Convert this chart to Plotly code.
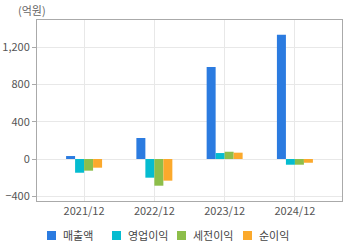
import plotly.graph_objects as go

categories = ["2021/12", "2022/12", "2023/12", "2024/12"]
series_names = ["매출액", "영업이익", "세전이익", "순이익"]
sales = [32, 225, 986, 1332]
op_income = [-147, -200, 64, -61]
pretax_income = [-125, -286, 78, -61]
net_income = [-93, -232, 68, -40]
colors = ["#2B7BE0", "#05BCD0", "#8DBE4A", "#FBA92C"]
y_ticks = [-400, 0, 400, 800, 1200]

FONT = "Noto Sans CJK KR, Noto Sans, sans-serif"

W, H = 360, 248
ML, MR, MT, MB = 37, 18, 20, 47
PW, PH = W - ML - MR, H - MT - MB

def px_x(px):
    return (px - ML) / PW

def px_y(py):
    return (H - MB - py) / PH

fig = go.Figure()
for name, vals, c in zip(series_names, [sales, op_income, pretax_income, net_income], colors):
    fig.add_trace(go.Bar(x=categories, y=vals, name=name, marker=dict(color=c, line=dict(width=0))))

# legend drawn below the plot (square + label per series)
legend_left_px = [47, 112, 177, 243]
shapes, annotations = [], []
for name, c, lx in zip(series_names, colors, legend_left_px):
    shapes.append(dict(type="rect", xref="paper", yref="paper",
                       x0=px_x(lx), x1=px_x(lx + 9), y0=px_y(240), y1=px_y(231),
                       fillcolor=c, line=dict(width=0)))
    annotations.append(dict(text=name, xref="paper", yref="paper", x=px_x(lx + 14), y=px_y(235.5),
                            xanchor="left", yanchor="middle", showarrow=False,
                            font=dict(size=11, color="#444444")))
annotations.append(dict(text="(억원)", xref="paper", yref="paper", x=-0.069, y=1.055,
                        xanchor="left", yanchor="middle", showarrow=False,
                        font=dict(size=11, color="#666666")))

fig.update_layout(
    width=W, height=H,
    margin=dict(l=ML, r=MR, t=MT, b=MB, autoexpand=False),
    paper_bgcolor="white", plot_bgcolor="white",
    barmode="group", bargap=0.488, bargroupgap=0,
    font=dict(family=FONT, size=11, color="#555555"),
    showlegend=False,
    shapes=shapes,
    annotations=annotations,
)
fig.update_xaxes(range=[-0.67, 3.67], showgrid=True, gridcolor="#E8E8E8",
                 showline=True, linecolor="#AAAAAA", linewidth=1, mirror=True,
                 ticks="", tickfont=dict(size=11, color="#555555"))
fig.update_yaxes(range=[-450, 1490], tickvals=y_ticks, tickformat=",",
                 showgrid=True, gridcolor="#E8E8E8", zeroline=True, zerolinecolor="#E8E8E8",
                 zerolinewidth=1, showline=True, linecolor="#AAAAAA", linewidth=1, mirror=True,
                 ticks="outside", ticklen=4, tickcolor="#AAAAAA",
                 tickfont=dict(size=11, color="#555555"))

fig.write_html("out.html")
